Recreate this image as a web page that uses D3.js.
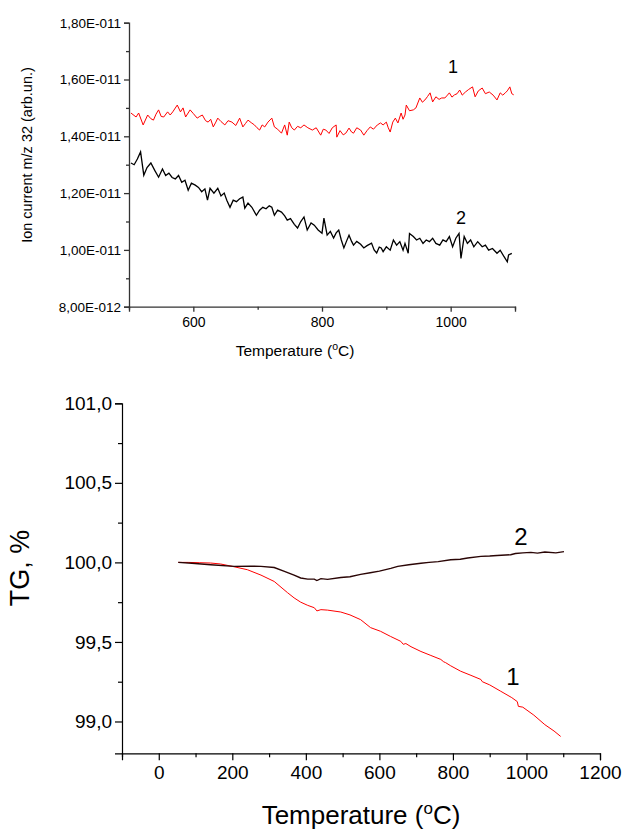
<!DOCTYPE html>
<html>
<head>
<meta charset="utf-8">
<script src="https://cdn.jsdelivr.net/npm/d3@7"></script>
<style>
  body { margin: 0; background: #fff; }
  text { font-family: "Liberation Sans", Arial, sans-serif; fill: #000; }
</style>
</head>
<body>
<svg id="chart" width="626" height="833"></svg>
<script>
// ---- top panel: ion current m/z 32 (units of 1E-011) ----
const ionTempRed = [503, 511, 515, 522, 529, 534, 538, 542, 546, 550, 554, 560, 564, 568, 575, 580, 584, 588, 595, 600, 606, 610, 614, 619, 623, 627, 631, 635, 638, 643, 649, 654, 660, 666, 672, 677, 681, 685, 690, 695, 699, 703, 707, 711, 716, 722, 726, 731, 737, 742, 746, 749, 753, 757, 762, 767, 772, 778, 785, 791, 798, 802, 806, 811, 816, 822, 823, 828, 833, 837, 842, 846, 849, 854, 860, 865, 870, 875, 880, 886, 891, 895, 900, 903, 906, 910, 914, 918, 923, 926, 929, 931, 936, 942, 946, 952, 956, 960, 964, 968, 972, 977, 982, 986, 991, 995, 998, 1002, 1006, 1010, 1014, 1018, 1023, 1028, 1034, 1038, 1043, 1049, 1054, 1060, 1066, 1072, 1077, 1081, 1085, 1088, 1092, 1095, 1098];
const ionRed = [1.482, 1.468, 1.482, 1.44, 1.475, 1.462, 1.457, 1.478, 1.493, 1.47, 1.468, 1.486, 1.475, 1.486, 1.51, 1.486, 1.5, 1.468, 1.493, 1.48, 1.464, 1.47, 1.475, 1.455, 1.45, 1.46, 1.433, 1.45, 1.464, 1.452, 1.44, 1.455, 1.45, 1.438, 1.464, 1.433, 1.445, 1.457, 1.448, 1.44, 1.43, 1.422, 1.44, 1.433, 1.45, 1.464, 1.433, 1.425, 1.411, 1.44, 1.404, 1.45, 1.43, 1.422, 1.435, 1.43, 1.44, 1.43, 1.422, 1.43, 1.404, 1.425, 1.422, 1.41, 1.43, 1.44, 1.397, 1.42, 1.405, 1.411, 1.429, 1.415, 1.411, 1.43, 1.422, 1.404, 1.42, 1.433, 1.425, 1.44, 1.447, 1.44, 1.45, 1.43, 1.415, 1.45, 1.464, 1.447, 1.482, 1.46, 1.475, 1.51, 1.49, 1.493, 1.5, 1.535, 1.52, 1.528, 1.54, 1.553, 1.521, 1.539, 1.53, 1.535, 1.535, 1.545, 1.553, 1.538, 1.546, 1.55, 1.563, 1.545, 1.556, 1.565, 1.574, 1.539, 1.56, 1.57, 1.55, 1.556, 1.545, 1.528, 1.553, 1.545, 1.553, 1.56, 1.574, 1.55, 1.546];

const ionTempBlack = [503, 508, 513, 518, 523, 528, 534, 540, 546, 552, 557, 562, 567, 572, 577, 582, 587, 592, 597, 603, 608, 613, 618, 622, 626, 632, 638, 643, 648, 652, 657, 662, 667, 672, 677, 680, 685, 691, 698, 703, 708, 713, 718, 722, 726, 731, 737, 742, 746, 751, 757, 762, 767, 772, 777, 783, 788, 794, 800, 803, 808, 813, 818, 822, 826, 830, 834, 838, 842, 846, 849, 854, 860, 865, 870, 877, 881, 885, 889, 892, 895, 900, 906, 911, 916, 921, 926, 929, 934, 936, 942, 947, 952, 957, 962, 967, 972, 977, 983, 988, 993, 998, 1003, 1008, 1013, 1016, 1021, 1026, 1031, 1036, 1042, 1049, 1054, 1059, 1065, 1072, 1077, 1083, 1088, 1090, 1095];
const ionBlack = [1.306, 1.3, 1.32, 1.345, 1.263, 1.29, 1.306, 1.28, 1.256, 1.285, 1.262, 1.27, 1.255, 1.25, 1.262, 1.238, 1.245, 1.21, 1.235, 1.228, 1.22, 1.205, 1.215, 1.175, 1.217, 1.2, 1.217, 1.19, 1.2, 1.175, 1.15, 1.175, 1.17, 1.18, 1.186, 1.147, 1.165, 1.15, 1.122, 1.14, 1.15, 1.145, 1.155, 1.15, 1.122, 1.14, 1.133, 1.12, 1.105, 1.11, 1.09, 1.077, 1.1, 1.116, 1.07, 1.095, 1.087, 1.07, 1.059, 1.112, 1.052, 1.065, 1.042, 1.06, 1.07, 1.035, 1.007, 1.03, 1.052, 1.03, 1.017, 1.03, 1.02, 1.007, 1.015, 1.024, 1.0, 0.989, 1.01, 1.007, 0.994, 1.011, 0.999, 1.035, 1.017, 1.029, 0.999, 1.023, 0.988, 1.058, 1.047, 1.035, 1.041, 1.023, 1.035, 1.029, 1.041, 1.023, 1.017, 1.035, 1.029, 1.047, 1.011, 1.041, 1.058, 0.970, 1.047, 1.023, 1.035, 1.011, 1.029, 1.011, 1.017, 0.999, 1.005, 0.988, 0.999, 0.976, 0.958, 0.982, 0.988];

const ionTicks = [0.8, 1.0, 1.2, 1.4, 1.6, 1.8];
const ionTickLabels = ["8,00E-012", "1,00E-011", "1,20E-011", "1,40E-011", "1,60E-011", "1,80E-011"];
const ionTempTicks = [600, 800, 1000];

// ---- bottom panel: TG, % ----
const tgTempRed = [53, 80, 110, 141, 168, 200, 241, 278, 314, 350, 368, 386, 405, 423, 430, 441, 459, 495, 520, 549, 576, 603, 630, 658, 665, 672, 686, 713, 740, 767, 775, 780, 794, 821, 849, 876, 880, 900, 930, 960, 975, 978, 990, 1020, 1050, 1075, 1093];
const tgRed = [100.0, 100.0, 99.998, 99.996, 99.99, 99.975, 99.954, 99.92, 99.88, 99.81, 99.777, 99.75, 99.73, 99.715, 99.695, 99.703, 99.7, 99.688, 99.67, 99.64, 99.59, 99.567, 99.535, 99.504, 99.485, 99.49, 99.47, 99.44, 99.415, 99.39, 99.375, 99.37, 99.35, 99.316, 99.29, 99.264, 99.25, 99.23, 99.19, 99.15, 99.125, 99.095, 99.09, 99.04, 98.98, 98.94, 98.906];

const tgTempBlack = [53, 90, 141, 205, 250, 278, 314, 340, 368, 386, 405, 423, 430, 441, 459, 495, 520, 549, 575, 600, 631, 650, 680, 713, 735, 760, 794, 820, 840, 876, 900, 920, 957, 970, 990, 1012, 1030, 1050, 1080, 1102];
const tgBlack = [100.0, 99.995, 99.985, 99.975, 99.976, 99.975, 99.968, 99.945, 99.92, 99.902, 99.895, 99.895, 99.886, 99.898, 99.893, 99.905, 99.91, 99.925, 99.935, 99.945, 99.962, 99.975, 99.985, 99.995, 100.0, 100.005, 100.017, 100.02, 100.028, 100.038, 100.04, 100.043, 100.048, 100.056, 100.06, 100.063, 100.058, 100.065, 100.06, 100.068];

const tgTicks = [99.0, 99.5, 100.0, 100.5, 101.0];
const tgTempTicks = [0, 200, 400, 600, 800, 1000, 1200];

const svg = d3.select("#chart");
const fmtComma = d => d.toFixed(1).replace(".", ",");
const fmtInt = d3.format("d");

// ================= top panel =================
const x1 = d3.scaleLinear().domain([500, 1100]).range([129, 515]);
const y1 = d3.scaleLinear().domain([0.8, 1.8]).range([306.7, 22.7]);

const topPanel = svg.append("g");

topPanel.append("g").attr("transform", "translate(129,0)")
  .call(d3.axisLeft(y1).tickValues(ionTicks).tickSize(5).tickPadding(3)
    .tickFormat((d, i) => ionTickLabels[i]))
  .call(g => g.selectAll("text").attr("font-size", 13.5));
topPanel.append("g").attr("transform", "translate(129,0)")
  .call(d3.axisLeft(y1).tickValues([0.9, 1.1, 1.3, 1.5, 1.7]).tickSize(3).tickFormat(""))
  .call(g => g.select(".domain").remove());

topPanel.append("g").attr("transform", "translate(0,306.7)")
  .call(d3.axisBottom(x1).tickValues(ionTempTicks).tickSize(5).tickPadding(5).tickFormat(fmtInt))
  .call(g => g.selectAll("text").attr("font-size", 14));
topPanel.append("g").attr("transform", "translate(0,306.7)")
  .call(d3.axisBottom(x1).tickValues([500, 700, 900, 1100]).tickSize(3).tickFormat(""))
  .call(g => g.select(".domain").remove());

topPanel.selectAll(".domain, .tick line").attr("stroke", "#333").attr("stroke-width", 1.3);

const line1 = d3.line().x(d => x1(d[0])).y(d => y1(d[1]));
topPanel.append("path").datum(d3.zip(ionTempRed, ionRed))
  .attr("fill", "none").attr("stroke", "#ff0000").attr("stroke-width", 1).attr("d", line1);
topPanel.append("path").datum(d3.zip(ionTempBlack, ionBlack))
  .attr("fill", "none").attr("stroke", "#000").attr("stroke-width", 1.3).attr("d", line1);

topPanel.append("text").attr("x", 453).attr("y", 73).attr("text-anchor", "middle")
  .attr("font-size", 18).text("1");
topPanel.append("text").attr("x", 461).attr("y", 224).attr("text-anchor", "middle")
  .attr("font-size", 18).text("2");

const tt = topPanel.append("text").attr("x", 295).attr("y", 356).attr("text-anchor", "middle")
  .attr("font-size", 15.5);
tt.append("tspan").text("Temperature (");
tt.append("tspan").attr("font-size", 10.5).attr("dy", -6).text("o");
tt.append("tspan").attr("dy", 6).text("C)");

topPanel.append("text").attr("transform", "translate(32,155) rotate(-90)")
  .attr("text-anchor", "middle").attr("font-size", 14.5).text("Ion current m/z 32 (arb.un.)");

// ================= bottom panel =================
const x2 = d3.scaleLinear().domain([-100, 1200]).range([122, 600]);
const y2 = d3.scaleLinear().domain([98.8, 101.0]).range([753.3, 403.3]);

const botPanel = svg.append("g");

botPanel.append("g").attr("transform", "translate(122,0)")
  .call(d3.axisLeft(y2).tickValues(tgTicks).tickSize(7).tickPadding(3).tickFormat(fmtComma))
  .call(g => g.selectAll("text").attr("font-size", 19));
botPanel.append("g").attr("transform", "translate(122,0)")
  .call(d3.axisLeft(y2).tickValues([99.25, 99.75, 100.25, 100.75]).tickSize(4).tickFormat(""))
  .call(g => g.select(".domain").remove());

botPanel.append("g").attr("transform", "translate(0,753.3)")
  .call(d3.axisBottom(x2).tickValues(tgTempTicks).tickSize(7).tickPadding(5).tickFormat(fmtInt))
  .call(g => g.selectAll("text").attr("font-size", 19));
botPanel.append("g").attr("transform", "translate(0,753.3)")
  .call(d3.axisBottom(x2).tickValues([-100, 100, 300, 500, 700, 900, 1100]).tickSize(4).tickFormat(""))
  .call(g => g.select(".domain").remove());

botPanel.selectAll(".domain, .tick line").attr("stroke", "#000").attr("stroke-width", 1.2);

const line2 = d3.line().x(d => x2(d[0])).y(d => y2(d[1]));
botPanel.append("path").datum(d3.zip(tgTempRed, tgRed))
  .attr("fill", "none").attr("stroke", "#ff0000").attr("stroke-width", 1).attr("d", line2);
botPanel.append("path").datum(d3.zip(tgTempBlack, tgBlack))
  .attr("fill", "none").attr("stroke", "#2a0505").attr("stroke-width", 1.4).attr("d", line2);

botPanel.append("text").attr("x", 521).attr("y", 545).attr("text-anchor", "middle")
  .attr("font-size", 24).text("2");
botPanel.append("text").attr("x", 513).attr("y", 685).attr("text-anchor", "middle")
  .attr("font-size", 24).text("1");

const bt = botPanel.append("text").attr("x", 361).attr("y", 824).attr("text-anchor", "middle")
  .attr("font-size", 26);
bt.append("tspan").text("Temperature (");
bt.append("tspan").attr("font-size", 17).attr("dy", -10).text("o");
bt.append("tspan").attr("dy", 10).text("C)");

botPanel.append("text").attr("transform", "translate(29,568) rotate(-90)")
  .attr("text-anchor", "middle").attr("font-size", 27).text("TG, %");
</script>
</body>
</html>
